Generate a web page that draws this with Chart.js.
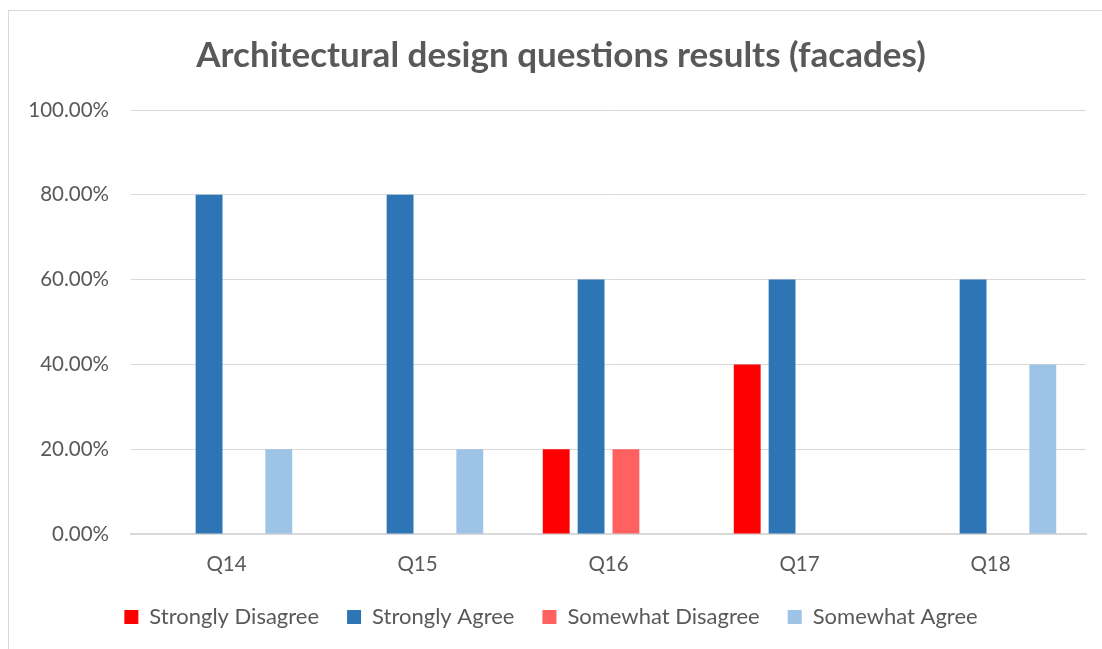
<!DOCTYPE html>
<html>
<head>
<meta charset="utf-8">
<script src="https://cdn.jsdelivr.net/npm/chart.js@4"></script>
<style>
  html, body { margin: 0; padding: 0; background: #fff; overflow: hidden; }
  #wrap { position: relative; width: 1102px; height: 649px; }
  #frame { position: absolute; left: 8px; top: 10px; width: 1200px; height: 700px; border: 1px solid #d9d9d9; box-sizing: border-box; }
  canvas { position: absolute; left: 0; top: 0; }
</style>
</head>
<body>
<div id="wrap">
  <div id="frame"></div>
  <canvas id="bieudo" width="1102" height="649"></canvas>
</div>
<script>
const cauhoi = ['Q14', 'Q15', 'Q16', 'Q17', 'Q18'];
const rathongdongy = [0, 0, 20, 40, 0];
const ratdongy = [80, 80, 60, 60, 60];
const hoikhongdongy = [0, 0, 20, 0, 0];
const hoidongy = [20, 20, 0, 0, 40];
const mocy = [0, 20, 40, 60, 80, 100];

const tieude = 'Architectural design questions results (facades)';
const chuxam = '#595959';
const bieudo = document.getElementById('bieudo');

// tieu de ve tay de can giua giong ban goc
const vetieude = {
    id: 'vetieude',
    afterDraw(chart) {
        const ctx = chart.ctx;
        ctx.save();
        ctx.fillStyle = chuxam;
        ctx.font = 'bold 35px Lato';
        ctx.textAlign = 'center';
        ctx.textBaseline = 'middle';
        ctx.fillText(tieude, 561, 56);
        ctx.restore();
    }
};

new Chart(bieudo, {
    type: 'bar',
    data: {
        labels: cauhoi,
        datasets: [
            { label: 'Strongly Disagree', data: rathongdongy, backgroundColor: '#FF0000' },
            { label: 'Strongly Agree', data: ratdongy, backgroundColor: '#2E75B6' },
            { label: 'Somewhat Disagree', data: hoikhongdongy, backgroundColor: '#FF6161' },
            { label: 'Somewhat Agree', data: hoidongy, backgroundColor: '#9DC3E6' }
        ]
    },
    options: {
        responsive: false,
        animation: false,
        categoryPercentage: 0.73,
        barPercentage: 0.77,
        layout: { padding: { left: 16, right: 16, top: 110, bottom: 11 } },
        plugins: {
            title: { display: false },
            legend: {
                position: 'bottom',
                labels: {
                    color: chuxam,
                    font: { family: 'Lato', size: 22 },
                    boxWidth: 14,
                    boxHeight: 14,
                    padding: 28
                }
            },
            tooltip: { enabled: false }
        },
        scales: {
            x: {
                afterFit: (truc) => { truc.height = 44; },
                grid: { display: false },
                border: { color: '#d9d9d9', width: 2 },
                ticks: { color: chuxam, font: { family: 'Lato', size: 20.5 }, padding: 10 }
            },
            y: {
                min: 0,
                max: 100,
                afterBuildTicks: (truc) => { truc.ticks = mocy.map(v => ({ value: v })); },
                afterFit: (truc) => { truc.width = 131 - 16; },
                border: { display: false },
                grid: { color: '#d9d9d9', lineWidth: 1, drawTicks: false },
                ticks: {
                    color: chuxam,
                    font: { family: 'Lato', size: 20.5 },
                    padding: 22,
                    callback: (v) => v.toFixed(2) + '%'
                }
            }
        }
    },
    plugins: [vetieude]
});
</script>
</body>
</html>
